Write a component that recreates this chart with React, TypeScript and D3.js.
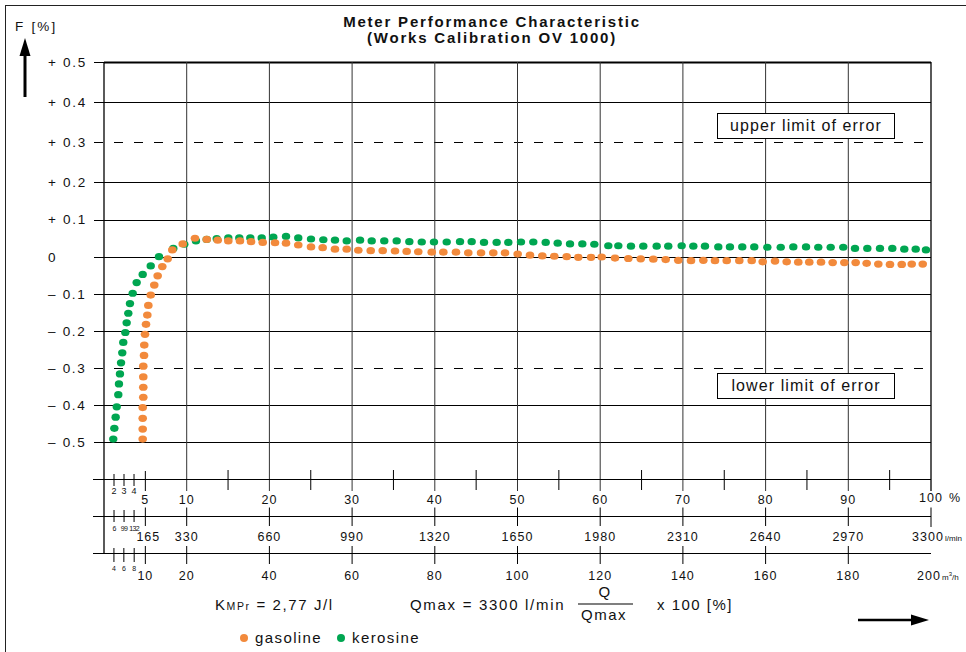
import React from "react";
import * as d3 from "d3";

// ---------- data ----------
const keroX = [1.12,1.25,1.41,1.54,1.73,1.81,1.93,2.06,2.21,2.33,2.58,2.74,2.94,3.14,3.47,3.95,4.68,5.65,6.65,8.38,9.71,11.12,12.42,13.63,15.03,16.36,17.69,19.07,20.47,22.01,23.49,25.03,26.52,27.93,29.35,30.96,32.37,33.89,35.39,36.92,38.42,39.90,41.44,43.05,44.46,45.95,47.48,48.89,50.42,51.91,53.41,54.86,56.35,57.84,59.29,60.98,62.19,63.72,65.21,66.83,68.23,69.85,71.26,72.67,74.28,75.69,77.18,78.63,80.21,81.83,83.35,84.89,86.37,87.87,89.39,90.81,92.30,93.83,95.32,96.77,98.15,99.39];
const keroY = [-0.492,-0.463,-0.433,-0.405,-0.372,-0.343,-0.316,-0.286,-0.259,-0.231,-0.204,-0.178,-0.152,-0.126,-0.098,-0.069,-0.047,-0.024,0.001,0.023,0.034,0.043,0.047,0.049,0.051,0.051,0.051,0.051,0.053,0.055,0.051,0.048,0.046,0.045,0.043,0.045,0.043,0.043,0.043,0.041,0.040,0.040,0.040,0.041,0.041,0.039,0.039,0.039,0.040,0.040,0.039,0.037,0.035,0.035,0.034,0.030,0.030,0.029,0.029,0.029,0.029,0.030,0.029,0.029,0.027,0.027,0.027,0.027,0.026,0.026,0.027,0.027,0.026,0.026,0.026,0.023,0.023,0.023,0.023,0.021,0.021,0.019];
const gasX = [4.68,4.68,4.68,4.68,4.75,4.75,4.75,4.75,4.84,4.87,4.96,5.08,5.24,5.36,5.65,6.08,6.49,7.05,7.70,8.26,9.52,11.00,12.42,13.75,15.03,16.44,17.78,19.19,20.68,22.01,23.49,25.03,26.44,27.93,29.35,30.75,32.25,33.70,35.19,36.60,38.00,39.63,41.03,42.56,44.05,45.59,47.07,48.49,50.02,51.51,53.00,54.45,55.95,57.35,58.89,60.18,61.79,63.40,64.90,66.42,67.92,69.44,70.98,72.47,73.88,75.30,76.82,78.32,79.65,81.14,82.55,83.95,85.28,86.70,88.11,89.52,90.89,92.22,93.63,95.04,96.46,97.67,99.00];
const gasY = [-0.492,-0.465,-0.436,-0.407,-0.379,-0.352,-0.324,-0.295,-0.266,-0.238,-0.209,-0.182,-0.157,-0.131,-0.103,-0.076,-0.051,-0.026,-0.005,0.019,0.035,0.050,0.047,0.045,0.043,0.043,0.041,0.039,0.038,0.037,0.032,0.027,0.025,0.021,0.021,0.018,0.017,0.017,0.016,0.015,0.014,0.013,0.013,0.013,0.011,0.011,0.011,0.011,0.008,0.005,0.003,0.002,0.001,-0.001,-0.001,0.000,-0.003,-0.004,-0.005,-0.006,-0.007,-0.009,-0.010,-0.009,-0.010,-0.010,-0.010,-0.010,-0.013,-0.011,-0.013,-0.014,-0.014,-0.014,-0.015,-0.015,-0.015,-0.017,-0.019,-0.020,-0.020,-0.019,-0.019];

const yTicks = [0.5, 0.4, 0.3, 0.2, 0.1, 0, -0.1, -0.2, -0.3, -0.4, -0.5];
const yTickLabels = ["+ 0.5", "+ 0.4", "+ 0.3", "+ 0.2", "+ 0.1", "0", "– 0.1", "– 0.2", "– 0.3", "– 0.4", "– 0.5"];
const errorLimits = [0.3, -0.3];
const limitLabels = ["upper limit of error", "lower limit of error"];

const pctMajor = [10, 20, 30, 40, 50, 60, 70, 80, 90];
const pctMinor = [15, 25, 35, 45, 55, 65, 75, 85, 95];
const pctFive = 5;
const pctSmallPos = [1.21, 2.42, 3.63];
const pctSmallLabels = ["2", "3", "4"];
const lpmTicks = [165, 330, 660, 990, 1320, 1650, 1980, 2310, 2640, 2970];
const lpmSmallPos = [40, 80, 120];
const lpmSmallLabels = ["6", "99", "132"];
const m3hTicks = [10, 20, 40, 60, 80, 100, 120, 140, 160, 180];
const m3hSmallPos = [2.4, 4.8, 7.3];
const m3hSmallLabels = ["4", "6", "8"];

const seriesNames = ["gasoline", "kerosine"];
const seriesColors = ["#F28A3C", "#00A651"];

const FONT = "'Liberation Sans', Arial, Helvetica, sans-serif";

export default function App() {
  const W = 966, H = 652;
  const left = 104, right = 931, top = 62;
  const row1 = 479.5, row2 = 516.5, row3 = 553.5;

  const x = d3.scaleLinear().domain([0, 100]).range([left, right]);
  const xL = d3.scaleLinear().domain([0, 3300]).range([left, right]);
  const xM = d3.scaleLinear().domain([0, 200]).range([left, right]);
  const y = d3.scaleLinear().domain([-0.5, 0, 0.2, 0.5]).range([442, 257, 182, top]);
  const crisp = (v: number) => Math.round(v) + 0.5;

  const kero = keroX.map((v, i) => [v, keroY[i]]);
  const gas = gasX.map((v, i) => [v, gasY[i]]);

  const txt = (props: any, s: string) => (
    <text fontFamily={FONT} fill="#111" {...props}>{s}</text>
  );

  return (
    <svg width={W} height={H} style={{ position: "absolute", left: 0, top: 0, background: "#fff" }}>
      <rect x={0} y={0} width={W} height={H} fill="#fff" />
      {/* outer frame */}
      <rect x={5.5} y={5.5} width={980} height={680} fill="none" stroke="#222" strokeWidth={1} />

      {/* title */}
      {txt({ x: 492, y: 27, textAnchor: "middle", fontSize: 15, fontWeight: "bold", letterSpacing: 1.8 }, "Meter Performance Characteristic")}
      {txt({ x: 492, y: 43, textAnchor: "middle", fontSize: 15, fontWeight: "bold", letterSpacing: 1.8 }, "(Works Calibration OV 1000)")}

      {/* y-axis label and arrow */}
      {txt({ x: 15, y: 31, fontSize: 13.5, letterSpacing: 2.2 }, "F [%]")}
      <line x1={25} y1={97} x2={25} y2={52} stroke="#000" strokeWidth={3} />
      <polygon points="19.5,56 25,38 30.5,56" fill="#000" />

      {/* horizontal grid lines */}
      {yTicks.map((t, i) => {
        const yy = crisp(y(t));
        const dashed = errorLimits.includes(t);
        return (
          <g key={"h" + i}>
            {dashed ? (
              <line x1={94} x2={right} y1={yy} y2={yy} stroke="#000" strokeWidth={1} strokeDasharray="9,11" />
            ) : (
              <>
                <line x1={94} x2={left} y1={yy} y2={yy} stroke="#000" strokeWidth={1} />
                <line x1={left} x2={right} y1={yy} y2={yy} stroke="#000" strokeWidth={t === 0.5 ? 1.8 : 1} />
              </>
            )}
            {txt({ x: 48, y: y(t) + 4.5, fontSize: 13.5, letterSpacing: 1.7 }, yTickLabels[i])}
          </g>
        );
      })}

      {/* vertical grid lines */}
      {pctMajor.map((p) => (
        <line key={"v" + p} x1={x(p)} x2={x(p)} y1={top} y2={491} stroke="#333" strokeWidth={1} />
      ))}
      <line x1={x(0)} x2={x(0)} y1={top} y2={row3} stroke="#000" strokeWidth={1.3} />
      <line x1={x(100)} x2={x(100)} y1={top} y2={491} stroke="#000" strokeWidth={1.3} />

      {/* limit boxes */}
      {errorLimits.map((t, i) => {
        const by = t > 0 ? 113 : 373;
        return (
          <g key={"box" + i}>
            <rect x={717.5} y={by + 0.5} width={177} height={25} fill="#fff" stroke="#000" strokeWidth={1} />
            {txt({ x: 806, y: by + 18, textAnchor: "middle", fontSize: 16, letterSpacing: 1.1 }, limitLabels[i])}
          </g>
        );
      })}

      {/* data dots */}
      {kero.map((d, i) => (
        <ellipse key={"k" + i} cx={x(d[0])} cy={y(d[1])} rx={4.2} ry={3.6} fill={seriesColors[1]} />
      ))}
      {gas.map((d, i) => (
        <ellipse key={"g" + i} cx={x(d[0])} cy={y(d[1])} rx={4.3} ry={3.6} fill={seriesColors[0]} />
      ))}

      {/* axis rows */}
      {[row1, row2, row3].map((r, i) => (
        <line key={"row" + i} x1={93} x2={right} y1={r} y2={r} stroke="#000" strokeWidth={1} />
      ))}

      {/* row 1 : percent */}
      {pctMinor.map((p) => (
        <line key={"pm" + p} x1={x(p)} x2={x(p)} y1={470} y2={490} stroke="#000" strokeWidth={1} />
      ))}
      <line x1={x(pctFive)} x2={x(pctFive)} y1={471} y2={491} stroke="#000" strokeWidth={1} />
      {pctSmallPos.map((p, i) => (
        <g key={"ps" + i}>
          <line x1={x(p)} x2={x(p)} y1={474} y2={486} stroke="#000" strokeWidth={1} />
          {txt({ x: x(p), y: 494, textAnchor: "middle", fontSize: 9 }, pctSmallLabels[i])}
        </g>
      ))}
      {[pctFive, ...pctMajor].map((p) =>
        <g key={"pl" + p}>{txt({ x: x(p), y: 504, textAnchor: "middle", fontSize: 12.5, letterSpacing: 1 }, String(p))}</g>
      )}
      {txt({ x: x(100), y: 502, textAnchor: "middle", fontSize: 12.5, letterSpacing: 1 }, "100")}
      {txt({ x: x(100) + 18, y: 502, fontSize: 12.5 }, "%")}

      {/* row 2 : l/min */}
      {lpmTicks.map((v) => (
        <g key={"l" + v}>
          <line x1={xL(v)} x2={xL(v)} y1={507.5} y2={526} stroke="#000" strokeWidth={1} />
          {txt({ x: xL(v) + (v === 165 ? 3 : 0), y: 541, textAnchor: "middle", fontSize: 12.5, letterSpacing: 1 }, String(v))}
        </g>
      ))}
      <line x1={xL(3300)} x2={xL(3300)} y1={507.5} y2={527} stroke="#000" strokeWidth={1} />
      {txt({ x: xL(3300) - 3, y: 541, textAnchor: "middle", fontSize: 12.5, letterSpacing: 1 }, "3300")}
      {txt({ x: xL(3300) + 14, y: 541, fontSize: 8 }, "l/min")}
      {lpmSmallPos.map((v, i) => (
        <g key={"ls" + i}>
          <line x1={xL(v)} x2={xL(v)} y1={510} y2={522} stroke="#000" strokeWidth={1} />
          {txt({ x: xL(v), y: 531, textAnchor: "middle", fontSize: 7, letterSpacing: -0.6 }, lpmSmallLabels[i])}
        </g>
      ))}

      {/* row 3 : m3/h */}
      {m3hTicks.map((v) => (
        <g key={"m" + v}>
          <line x1={xM(v)} x2={xM(v)} y1={546} y2={564} stroke="#000" strokeWidth={1} />
          {txt({ x: xM(v), y: 580, textAnchor: "middle", fontSize: 12.5, letterSpacing: 1 }, String(v))}
        </g>
      ))}
      {txt({ x: xM(200) - 2, y: 580, textAnchor: "middle", fontSize: 12.5, letterSpacing: 1 }, "200")}
      <text x={xM(200) + 11} y={580} fontFamily={FONT} fontSize={8} fill="#111">m<tspan dy={-4} fontSize={6}>3</tspan><tspan dy={4}>/h</tspan></text>
      {m3hSmallPos.map((v, i) => (
        <g key={"ms" + i}>
          <line x1={xM(v)} x2={xM(v)} y1={548} y2={562} stroke="#000" strokeWidth={1} />
          {txt({ x: xM(v), y: 571, textAnchor: "middle", fontSize: 7 }, m3hSmallLabels[i])}
        </g>
      ))}

      {/* formulas */}
      <text x={215} y={610} fontFamily={FONT} fontSize={15} fill="#111" letterSpacing={1.6}>
        K<tspan fontSize={10.5}>MPr</tspan> = 2,77 J/l
      </text>
      {txt({ x: 410, y: 610, fontSize: 15, letterSpacing: 1.7 }, "Qmax = 3300 l/min")}
      {txt({ x: 605, y: 597, textAnchor: "middle", fontSize: 15, letterSpacing: 1.5 }, "Q")}
      <line x1={578} x2={633} y1={604} y2={604} stroke="#000" strokeWidth={1.2} />
      {txt({ x: 604, y: 620, textAnchor: "middle", fontSize: 15, letterSpacing: 1.5 }, "Qmax")}
      {txt({ x: 657, y: 610, fontSize: 15, letterSpacing: 1.5 }, "x 100 [%]")}

      {/* x arrow */}
      <line x1={858} x2={914} y1={620} y2={620} stroke="#000" strokeWidth={2.5} />
      <polygon points="911,614.5 929,620 911,625.5" fill="#000" />

      {/* legend */}
      {seriesNames.map((n, i) => {
        const lx = i === 0 ? 244 : 341;
        return (
          <g key={"lg" + i}>
            <circle cx={lx} cy={638} r={4} fill={seriesColors[i]} />
            {txt({ x: lx + 11, y: 643, fontSize: 15, letterSpacing: 1.4 }, n)}
          </g>
        );
      })}
    </svg>
  );
}
